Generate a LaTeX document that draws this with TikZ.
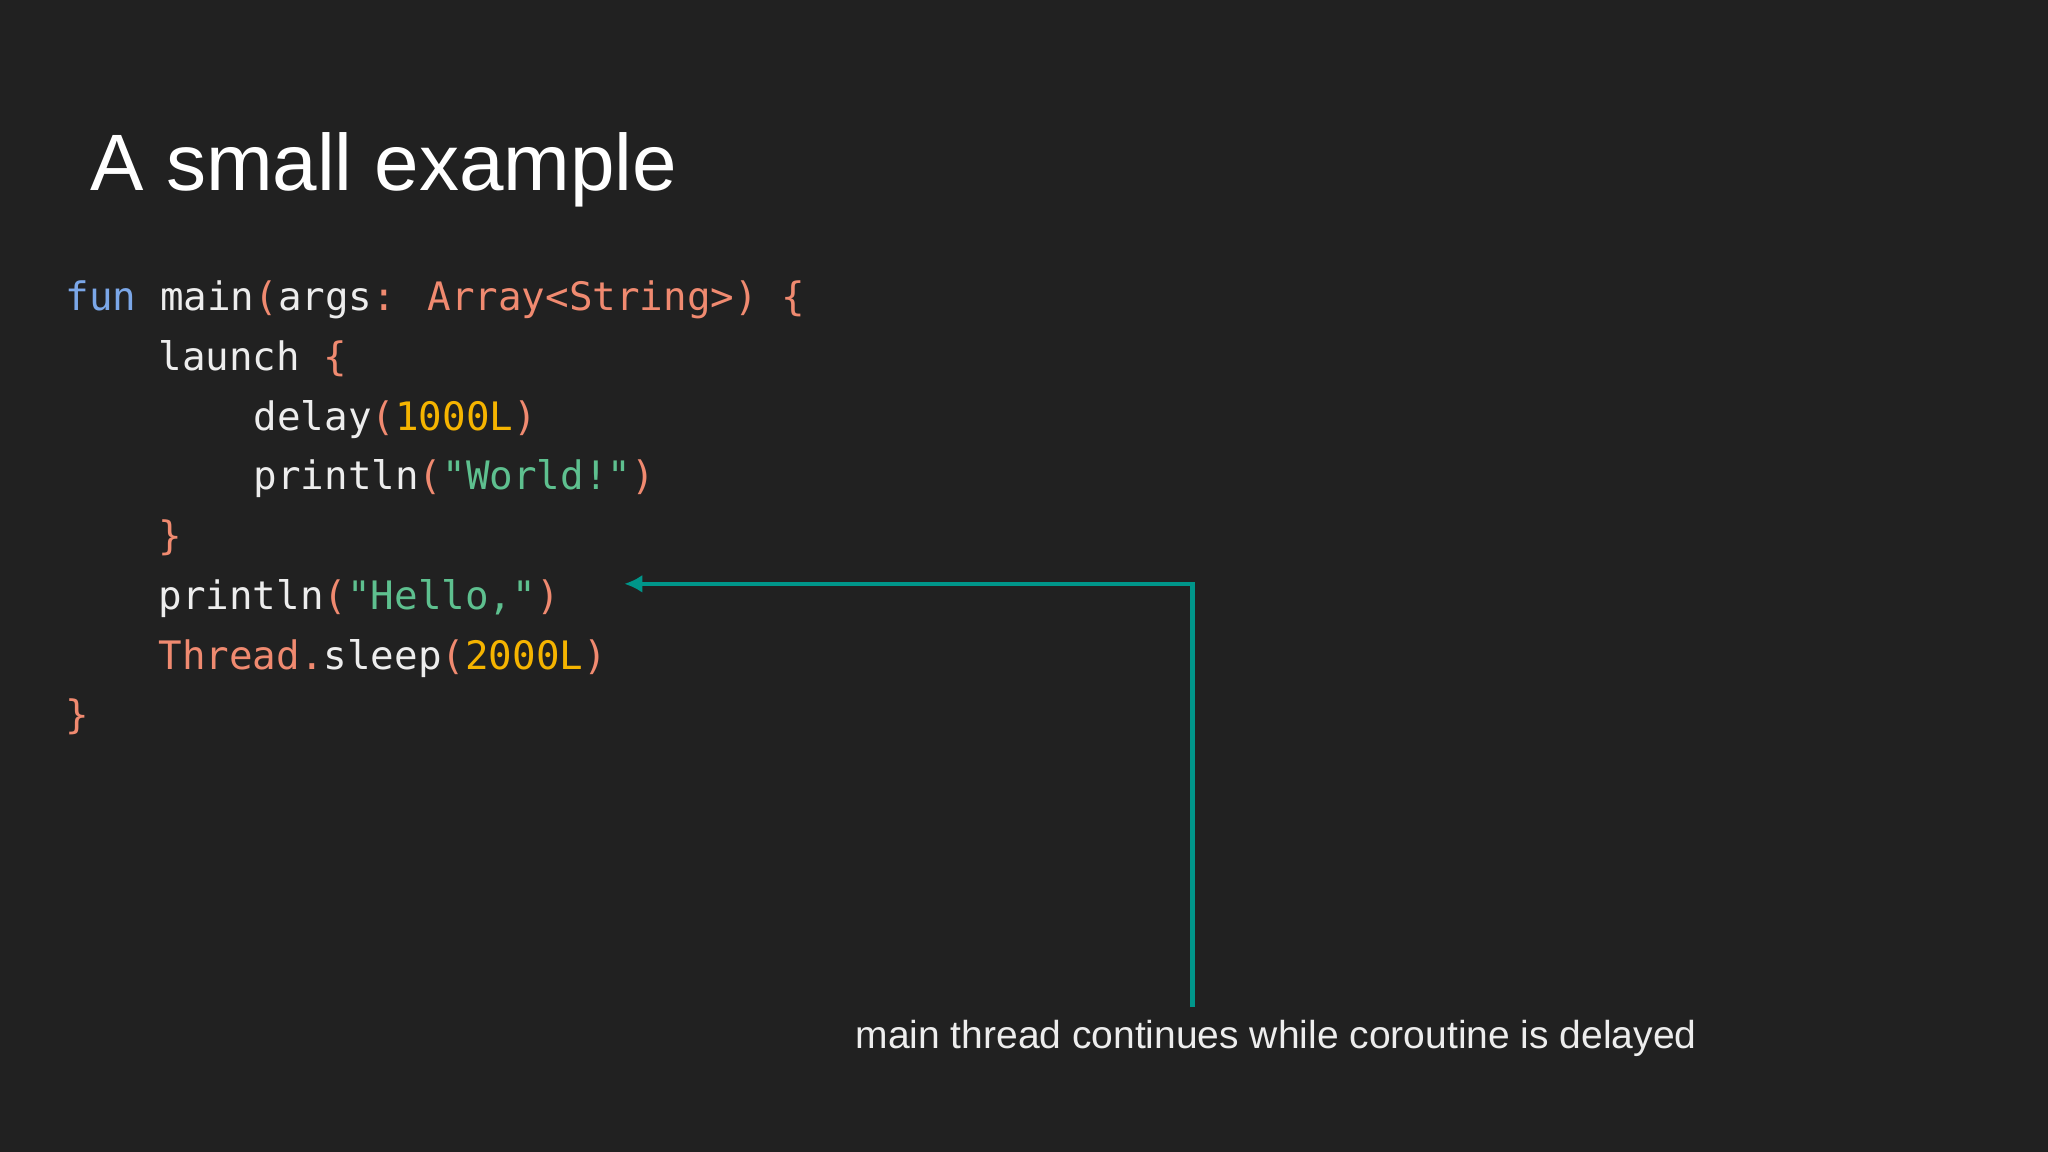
\documentclass[tikz,border=0pt]{standalone}
\usepackage{fontspec}
\setmainfont{Liberation Sans}
\newfontfamily\codefont{DejaVu Sans Mono}
\usetikzlibrary{arrows.meta}
\definecolor{bg}{HTML}{212121}
\definecolor{fg}{HTML}{EDEDED}
\definecolor{kw}{HTML}{7BA7E8}
\definecolor{pu}{HTML}{F08A70}
\definecolor{nu}{HTML}{F5B400}
\definecolor{st}{HTML}{5EC08F}
\definecolor{teal}{HTML}{00968A}
\newcommand{\Kw}[1]{\textcolor{kw}{#1}}
\newcommand{\Pu}[1]{\textcolor{pu}{#1}}
\newcommand{\Nu}[1]{\textcolor{nu}{#1}}
\newcommand{\St}[1]{\textcolor{st}{#1}}
\begin{document}
\begin{tikzpicture}[x=0.6531pt,y=-0.6531pt,
  code/.style={anchor=base west,inner sep=0,text=fg,font=\codefont\fontsize{19.6}{22}\selectfont},
  conn/.style={draw=teal,line width=2.2pt,-{Latex[length=9pt,width=9pt]}}]
\fill[bg] (0,0) rectangle (1568,882);
\useasboundingbox (0,0) rectangle (1568,882);
\node[anchor=base west,inner sep=0,text=white,font=\fontsize{40}{48}\selectfont] (title) at (69,146) {A small example};
\node[code] (l1) at (50,238) {\Kw{fun} main\Pu{(}args\Pu{: Array<String>) \{}};
\node[code] (l2) at (121,283.7) {launch \Pu{\{}};
\node[code] (l3) at (194,329.4) {delay\Pu{(}\Nu{1000L}\Pu{)}};
\node[code] (l4) at (194,375.1) {println\Pu{(}\St{"World!"}\Pu{)}};
\node[code] (l5) at (121,420.8) {\Pu{\}}};
\node[code] (l6) at (121,466.5) {println\Pu{(}\St{"Hello,"}\Pu{)}};
\node[code] (l7) at (121,512.2) {\Pu{Thread.}sleep\Pu{(}\Nu{2000L}\Pu{)}};
\node[code] (l8) at (50,557.9) {\Pu{\}}};
\node[anchor=base,inner sep=0,text=fg,font=\fontsize{19.5}{23}\selectfont] (lbl) at (977,803) {main thread continues while coroutine is delayed};
\coordinate (bend) at (913,447);
\coordinate (hello) at (478,447);
\coordinate (start) at (913,771);
\draw[conn] (start) -- (bend) -- (hello);
\end{tikzpicture}
\end{document}
